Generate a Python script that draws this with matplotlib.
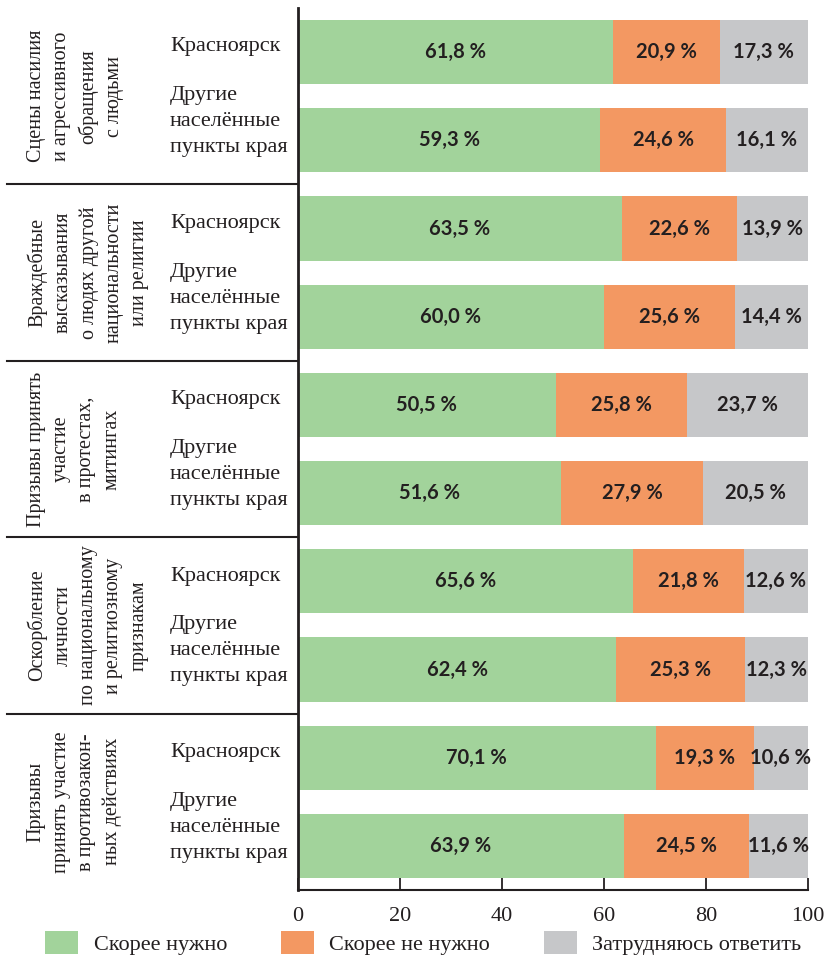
import numpy as np
import matplotlib
matplotlib.use('Agg')
import matplotlib.pyplot as plt
import matplotlib.transforms as mtransforms
from matplotlib.patches import Patch

# Data.
groups = ['Сцены насилия\nи агрессивного\nобращения\nс людьми',
          'Враждебные\nвысказывания\nо людях другой\nнациональности\nили религии',
          'Призывы принять\nучастие\nв протестах,\nмитингах',
          'Оскорбление\nличности\nпо национальному\nи религиозному\nпризнакам',
          'Призывы\nпринять участие\nв противозакон-\nных действиях']
places = ['Красноярск', 'Другие\nнаселённые\nпункты края']
need = [61.8, 59.3, 63.5, 60.0, 50.5, 51.6, 65.6, 62.4, 70.1, 63.9]
not_need = [20.9, 24.6, 22.6, 25.6, 25.8, 27.9, 21.8, 25.3, 19.3, 24.5]
unsure = [17.3, 16.1, 13.9, 14.4, 23.7, 20.5, 12.6, 12.3, 10.6, 11.6]
series_names = ['Скорее нужно', 'Скорее не нужно', 'Затрудняюсь ответить']
colors = ['#a2d39b', '#f39862', '#c6c7c9']
text_c = '#231f20'

serif = 'Liberation Serif'
sans = 'Lato'

fig = plt.figure(figsize=(8.26, 9.57), dpi=100)
ax = fig.add_axes([298/826, 67/957, 510/826, 882/957])

y = np.arange(len(need))
left = np.zeros(len(need))
for vals, col in zip([need, not_need, unsure], colors):
    vals = np.array(vals)
    ax.barh(y, vals, left=left, height=0.73, color=col, edgecolor='none')
    for yi, l, v in zip(y, left, vals):
        ax.text(l + v/2, yi, ('%.1f %%' % v).replace('.', ','), ha='center', va='center',
                fontsize=14.5, fontweight='bold', family=sans, color=text_c)
    left = left + vals

ax.set_xlim(0, 100)
ax.set_ylim(len(need) - 0.5, -0.5)
ax.set_yticks([])
ax.set_xticks(np.arange(0, 101, 20))
ax.tick_params(axis='x', direction='in', length=9, width=1.3, colors=text_c, pad=12)
for lb in ax.get_xticklabels():
    lb.set_family(serif)
    lb.set_fontsize(16)
for s in ['top', 'right']:
    ax.spines[s].set_visible(False)
ax.spines['left'].set_linewidth(2)
ax.spines['bottom'].set_linewidth(1.5)
ax.spines['left'].set_color(text_c)
ax.spines['bottom'].set_color(text_c)

# Left-side labels: places and rotated group names.
trans = mtransforms.blended_transform_factory(ax.transAxes, ax.transData)
shift = [-0.06, -0.21]
for i, g in enumerate(groups):
    for j, p in enumerate(places):
        ax.text(-0.251, 2*i + j + shift[j], p, transform=trans, ha='left', va='center',
                fontsize=16, family=serif, color=text_c, linespacing=1.5)
    ax.text(-0.532, 2*i + 0.5, g, transform=trans, ha='left', va='center',
            rotation=90, fontsize=14.5, family=serif, color=text_c,
            linespacing=1.45, multialignment='center')
for yb in [1.5, 3.5, 5.5, 7.5]:
    ax.plot([-0.57, 0], [yb, yb], transform=trans, color=text_c, lw=1.5, clip_on=False)

handles = [Patch(facecolor=c, edgecolor='none') for c in colors]
leg = fig.legend(handles, series_names, loc='lower left', bbox_to_anchor=(45/826, 2/957),
                 ncol=3, frameon=False, borderpad=0, borderaxespad=0,
                 handlelength=1.5, handleheight=1.25,
                 handletextpad=0.7, columnspacing=2.4,
                 prop={'family': serif, 'size': 16})
for t in leg.get_texts():
    t.set_color(text_c)

fig.savefig('out.png', dpi=100)
